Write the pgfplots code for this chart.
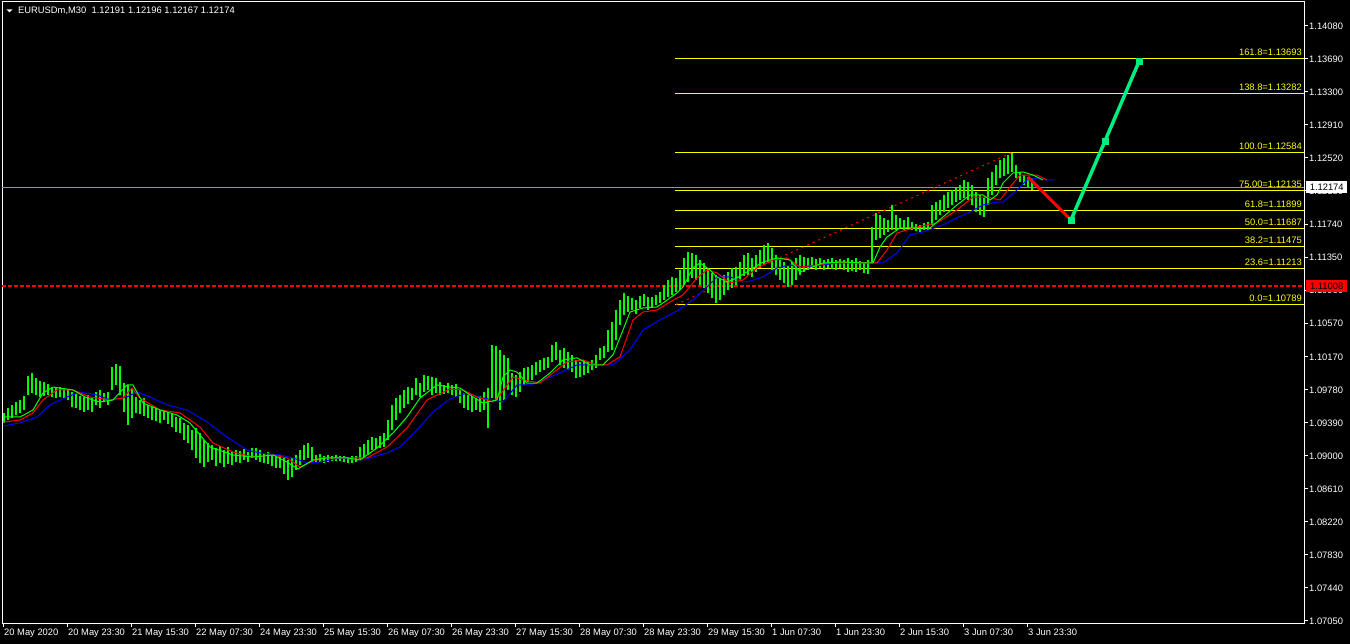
\documentclass[border=0pt]{standalone}
\usepackage{pgfplots}
\usepackage{pgfplotstable}
\pgfplotsset{compat=1.18}
\usepackage{fontspec}
\newfontfamily\mtfont{Liberation Sans}
\definecolor{mtlime}{RGB}{0,255,0}
\definecolor{mtred}{RGB}{255,0,0}
\definecolor{mtblue}{RGB}{0,0,255}
\definecolor{mtyellow}{RGB}{255,255,0}
\definecolor{mtspring}{RGB}{0,238,128}
\definecolor{mtgrey}{RGB}{140,150,160}
\newcommand\mtsize{\mtfont\fontsize{9.4}{10}\selectfont}

\pgfplotstableread{
x lo hi
4 1.09389 1.09508
8 1.09424 1.09566
12 1.09448 1.09602
16 1.09484 1.09637
20 1.09508 1.09661
24 1.09543 1.09708
28 1.09720 1.09944
32 1.09744 1.09980
36 1.09720 1.09920
40 1.09696 1.09885
44 1.09708 1.09873
48 1.09720 1.09850
52 1.09696 1.09814
56 1.09684 1.09802
60 1.09696 1.09814
64 1.09684 1.09802
68 1.09661 1.09791
72 1.09578 1.09755
76 1.09566 1.09732
80 1.09543 1.09708
84 1.09519 1.09696
88 1.09543 1.09720
92 1.09519 1.09684
96 1.09602 1.09755
100 1.09566 1.09779
104 1.09637 1.09744
108 1.09602 1.09755
112 1.09779 1.10051
116 1.09838 1.10087
120 1.09720 1.10063
124 1.09519 1.09861
128 1.09365 1.09838
132 1.09448 1.09802
136 1.09508 1.09696
140 1.09496 1.09661
144 1.09472 1.09684
148 1.09448 1.09602
152 1.09424 1.09578
156 1.09412 1.09566
160 1.09389 1.09543
164 1.09424 1.09543
168 1.09377 1.09519
172 1.09341 1.09508
176 1.09282 1.09460
180 1.09271 1.09448
184 1.09188 1.09389
188 1.09153 1.09365
192 1.09070 1.09306
196 1.08976 1.09330
200 1.08917 1.09271
204 1.08869 1.09188
208 1.08928 1.09153
212 1.08952 1.09129
216 1.08881 1.09093
220 1.08917 1.09117
224 1.08869 1.09070
228 1.08905 1.09105
232 1.08893 1.09046
236 1.08928 1.09070
240 1.08917 1.09058
244 1.08952 1.09082
248 1.08928 1.09046
252 1.08976 1.09093
256 1.08952 1.09093
260 1.08928 1.09070
264 1.08917 1.09035
268 1.08905 1.09046
272 1.08881 1.09011
276 1.08857 1.08999
280 1.08857 1.09011
284 1.08787 1.08976
288 1.08716 1.08952
292 1.08751 1.08976
296 1.08834 1.09011
300 1.08893 1.09070
304 1.08952 1.09129
308 1.08976 1.09153
312 1.08928 1.09105
316 1.08917 1.09011
320 1.08928 1.09023
324 1.08917 1.08999
328 1.08928 1.09011
332 1.08940 1.08999
336 1.08940 1.09011
340 1.08940 1.08999
344 1.08928 1.08999
348 1.08917 1.08987
352 1.08917 1.08999
356 1.08928 1.08999
360 1.08952 1.09105
364 1.08987 1.09141
368 1.09011 1.09188
372 1.09070 1.09223
376 1.09082 1.09212
380 1.09093 1.09235
384 1.09105 1.09271
388 1.09188 1.09424
392 1.09306 1.09602
396 1.09424 1.09684
400 1.09508 1.09720
404 1.09566 1.09779
408 1.09614 1.09814
412 1.09661 1.09802
416 1.09720 1.09920
420 1.09696 1.09861
424 1.09755 1.09956
428 1.09779 1.09944
432 1.09720 1.09932
436 1.09744 1.09920
440 1.09720 1.09873
444 1.09732 1.09838
448 1.09744 1.09861
452 1.09720 1.09838
456 1.09696 1.09850
460 1.09625 1.09779
464 1.09566 1.09744
468 1.09543 1.09720
472 1.09519 1.09708
476 1.09543 1.09684
480 1.09519 1.09708
484 1.09543 1.09755
488 1.09330 1.09802
492 1.09684 1.10311
496 1.09661 1.10299
500 1.09543 1.10252
504 1.09661 1.10193
508 1.09779 1.10158
512 1.09720 1.09980
516 1.09696 1.09956
520 1.09755 1.09991
524 1.09838 1.10039
528 1.09873 1.10051
532 1.09897 1.10075
536 1.09956 1.10110
540 1.09991 1.10134
544 1.10015 1.10158
548 1.10039 1.10170
552 1.10110 1.10311
556 1.10134 1.10346
560 1.10075 1.10252
564 1.10039 1.10276
568 1.10015 1.10228
572 1.09991 1.10193
576 1.09920 1.10134
580 1.09932 1.10110
584 1.09956 1.10134
588 1.09980 1.10110
592 1.10015 1.10134
596 1.10039 1.10193
600 1.10134 1.10276
604 1.10158 1.10299
608 1.10228 1.10488
612 1.10252 1.10582
616 1.10370 1.10724
620 1.10547 1.10843
624 1.10665 1.10926
628 1.10700 1.10890
632 1.10724 1.10866
636 1.10677 1.10843
640 1.10748 1.10890
644 1.10772 1.10914
648 1.10724 1.10878
652 1.10760 1.10878
656 1.10784 1.10902
660 1.10807 1.10937
664 1.10843 1.11020
668 1.10878 1.11079
672 1.10902 1.11114
676 1.10937 1.11102
680 1.10961 1.11197
684 1.11020 1.11339
688 1.11055 1.11409
692 1.11102 1.11398
696 1.11079 1.11374
700 1.11020 1.11315
704 1.10985 1.11280
708 1.10926 1.11221
712 1.10866 1.11162
716 1.10807 1.11138
720 1.10843 1.11102
724 1.10902 1.11138
728 1.10961 1.11173
732 1.10985 1.11221
736 1.11020 1.11232
740 1.11079 1.11291
744 1.11126 1.11374
748 1.11138 1.11398
752 1.11114 1.11339
756 1.11173 1.11374
760 1.11221 1.11433
764 1.11256 1.11492
768 1.11291 1.11516
772 1.11197 1.11457
776 1.11138 1.11374
780 1.11079 1.11315
784 1.11044 1.11291
788 1.10996 1.11256
792 1.11020 1.11291
796 1.11079 1.11339
800 1.11138 1.11374
804 1.11173 1.11350
808 1.11197 1.11339
812 1.11221 1.11350
816 1.11197 1.11327
820 1.11221 1.11339
824 1.11197 1.11315
828 1.11221 1.11327
832 1.11209 1.11339
836 1.11197 1.11315
840 1.11221 1.11327
844 1.11197 1.11315
848 1.11173 1.11339
852 1.11185 1.11315
856 1.11173 1.11339
860 1.11197 1.11303
864 1.11162 1.11291
868 1.11150 1.11315
872 1.11280 1.11705
876 1.11551 1.11871
880 1.11575 1.11847
884 1.11611 1.11812
888 1.11646 1.11788
892 1.11670 1.11965
896 1.11670 1.11847
900 1.11694 1.11812
904 1.11670 1.11788
908 1.11694 1.11823
912 1.11670 1.11764
916 1.11658 1.11741
920 1.11646 1.11729
924 1.11670 1.11753
928 1.11670 1.11764
932 1.11729 1.11965
936 1.11788 1.12000
940 1.11847 1.12024
944 1.11882 1.12083
948 1.11929 1.12118
952 1.11965 1.12142
956 1.12000 1.12165
960 1.12024 1.12201
964 1.12047 1.12260
968 1.12024 1.12236
972 1.11965 1.12201
976 1.11882 1.12118
980 1.11847 1.12083
984 1.11823 1.12047
988 1.11965 1.12284
992 1.12083 1.12355
996 1.12201 1.12438
1000 1.12284 1.12497
1004 1.12307 1.12521
1008 1.12331 1.12556
1012 1.12355 1.12580
1016 1.12284 1.12438
1020 1.12236 1.12355
1024 1.12201 1.12319
1028 1.12165 1.12296
1032 1.12142 1.12284
}\bars

\pgfplotstableread{
x y
3 1.09460
20 1.09460
33 1.09543
43 1.09744
53 1.09814
73 1.09779
87 1.09684
100 1.09637
113 1.09661
127 1.09838
133 1.09838
143 1.09625
160 1.09543
177 1.09484
190 1.09389
210 1.09105
233 1.09011
253 1.08987
273 1.09011
287 1.08928
298 1.08846
313 1.08952
327 1.08976
347 1.08976
360 1.08952
377 1.09093
393 1.09271
407 1.09460
420 1.09684
437 1.09838
450 1.09814
460 1.09802
470 1.09720
483 1.09625
497 1.09661
503 1.09932
510 1.10015
517 1.09991
527 1.09861
537 1.09861
550 1.09980
563 1.10134
577 1.10158
590 1.10075
603 1.10075
613 1.10193
623 1.10488
630 1.10700
643 1.10748
657 1.10760
663 1.10807
677 1.10926
683 1.10996
693 1.11221
700 1.11280
710 1.11197
717 1.11114
727 1.11055
737 1.11102
750 1.11197
763 1.11291
777 1.11339
790 1.11315
800 1.11173
810 1.11221
823 1.11280
843 1.11291
863 1.11280
873 1.11280
880 1.11469
887 1.11587
900 1.11694
917 1.11694
930 1.11694
943 1.11823
957 1.11965
970 1.12083
983 1.12083
990 1.12024
997 1.12083
1003 1.12225
1013 1.12343
1023 1.12355
1033 1.12319
1043 1.12260
}\magreen

\pgfplotstableread{
x y
3 1.09400
20 1.09424
33 1.09508
43 1.09661
57 1.09779
73 1.09779
90 1.09696
110 1.09661
123 1.09684
132 1.09802
140 1.09684
160 1.09543
180 1.09508
200 1.09341
213 1.09153
233 1.09046
253 1.08987
273 1.09011
287 1.08976
300 1.08869
320 1.08976
347 1.08976
367 1.08976
387 1.09105
407 1.09330
427 1.09661
450 1.09791
463 1.09779
477 1.09696
493 1.09637
500 1.09720
513 1.09932
523 1.09897
540 1.09861
553 1.09980
567 1.10110
583 1.10134
597 1.10075
607 1.10075
620 1.10170
633 1.10606
643 1.10700
657 1.10724
670 1.10819
683 1.10902
697 1.11102
707 1.11197
717 1.11162
730 1.11044
743 1.11079
757 1.11221
773 1.11315
787 1.11339
800 1.11232
817 1.11256
837 1.11291
863 1.11280
877 1.11280
887 1.11433
897 1.11634
917 1.11705
937 1.11753
957 1.11906
973 1.12059
987 1.12059
1000 1.12024
1010 1.12177
1020 1.12319
1037 1.12319
1047 1.12260
}\mared

\pgfplotstableread{
x y
3 1.09353
20 1.09389
37 1.09460
50 1.09602
67 1.09696
80 1.09755
97 1.09720
110 1.09661
127 1.09696
137 1.09755
150 1.09696
167 1.09602
187 1.09543
207 1.09401
227 1.09223
247 1.09070
260 1.09035
280 1.09011
293 1.08976
307 1.08917
320 1.08928
340 1.08976
363 1.08952
387 1.09035
400 1.09105
417 1.09306
433 1.09519
450 1.09673
467 1.09744
483 1.09684
503 1.09637
517 1.09838
530 1.09838
543 1.09897
560 1.09980
577 1.10075
590 1.10075
613 1.10075
630 1.10252
643 1.10488
660 1.10606
677 1.10713
693 1.10843
707 1.10996
717 1.11114
730 1.11114
747 1.11055
763 1.11114
777 1.11221
790 1.11256
803 1.11232
823 1.11256
837 1.11280
857 1.11280
883 1.11280
897 1.11398
910 1.11611
923 1.11646
943 1.11729
957 1.11812
970 1.11882
983 1.11965
997 1.12000
1003 1.12000
1017 1.12142
1027 1.12260
1037 1.12284
1047 1.12260
1055 1.12260
}\mablue

\begin{document}
\begin{tikzpicture}
\fill[black] (0,0) rectangle (1350bp,644bp);
\begin{axis}[
  scale only axis, width=1302bp, height=621bp,
  at={(2bp,21bp)}, anchor=south west,
  xmin=2, xmax=1304, ymin=1.07026, ymax=1.14363,
  axis line style={white, line width=1bp},
  tick style={white, line width=1bp},
  major tick length=4bp, tick align=outside,
  xtick pos=bottom, ytick pos=right,
  xticklabel pos=lower, yticklabel pos=right,
  xtick={3,67,131,195,259,323,387,451,515,579,643,707,771,835,899,963,1027},
  xticklabels={20 May 2020,20 May 23:30,21 May 15:30,22 May 07:30,24 May 23:30,25 May 15:30,26 May 07:30,26 May 23:30,27 May 15:30,28 May 07:30,28 May 23:30,29 May 15:30,1 Jun 07:30,1 Jun 23:30,2 Jun 15:30,3 Jun 07:30,3 Jun 23:30},
  ytick={1.07050,1.07440,1.07830,1.08220,1.08610,1.09000,1.09390,1.09780,1.10170,1.10570,1.10960,1.11350,1.11740,1.12130,1.12520,1.12910,1.13300,1.13690,1.14080},
  yticklabels={1.07050,1.07440,1.07830,1.08220,1.08610,1.09000,1.09390,1.09780,1.10170,1.10570,1.10960,1.11350,1.11740,1.12130,1.12520,1.12910,1.13300,1.13690,1.14080},
  xticklabel style={anchor=north west, inner sep=0pt, xshift=1bp, yshift=-2bp, text=white, font=\mtsize},
  yticklabel style={anchor=west, inner sep=0pt, xshift=1bp, text=white, font=\mtsize},
  every axis plot/.append style={mark=none},
]
% Fibonacci levels
\addplot[mtyellow, line width=1bp] coordinates {(675,1.13693) (1304,1.13693)};
\addplot[mtyellow, line width=1bp] coordinates {(675,1.13282) (1304,1.13282)};
\addplot[mtyellow, line width=1bp] coordinates {(675,1.12584) (1304,1.12584)};
\addplot[mtyellow, line width=1bp] coordinates {(675,1.12135) (1304,1.12135)};
\addplot[mtyellow, line width=1bp] coordinates {(675,1.11899) (1304,1.11899)};
\addplot[mtyellow, line width=1bp] coordinates {(675,1.11687) (1304,1.11687)};
\addplot[mtyellow, line width=1bp] coordinates {(675,1.11475) (1304,1.11475)};
\addplot[mtyellow, line width=1bp] coordinates {(675,1.11213) (1304,1.11213)};
\addplot[mtyellow, line width=1bp] coordinates {(675,1.10789) (1304,1.10789)};
% current price and red level
\addplot[mtgrey, line width=1bp] coordinates {(2,1.12174) (1304,1.12174)};
\addplot[mtred, line width=1.2bp, dash pattern=on 4bp off 2bp] coordinates {(2,1.11008) (1304,1.11008)};
\addplot[mtred, line width=1bp, dash pattern=on 2bp off 4bp] coordinates {(676,1.10789) (1012,1.12584)};
% bars
\addplot[draw=none, forget plot,
  error bars/.cd, y dir=plus, y explicit, error mark=none,
  error bar style={draw=mtlime, line width=1.5bp}]
  table[x=x, y=lo, y error plus expr=\thisrow{hi}-\thisrow{lo}] {\bars};
% moving averages
\addplot[mtblue, line width=1bp] table[x=x,y=y] {\mablue};
\addplot[mtred, line width=1bp] table[x=x,y=y] {\mared};
\addplot[mtlime, line width=1bp] table[x=x,y=y] {\magreen};
% projection
\addplot[mtred, line width=3bp] coordinates {(1028,1.12296) (1071,1.11788)};
\addplot[mtspring, line width=3.5bp, mark=square*, mark size=3bp, mark options={fill=mtspring, draw=mtspring, line width=0.5bp}]
  coordinates {(1071,1.11788) (1105,1.12721) (1139,1.13660)};
% labels of levels
\node[anchor=south east, inner sep=0pt, yshift=2.5bp, text=mtyellow, font=\mtsize] at (axis cs:1302,1.13693) {161.8=1.13693};
\node[anchor=south east, inner sep=0pt, yshift=2.5bp, text=mtyellow, font=\mtsize] at (axis cs:1302,1.13282) {138.8=1.13282};
\node[anchor=south east, inner sep=0pt, yshift=2.5bp, text=mtyellow, font=\mtsize] at (axis cs:1302,1.12584) {100.0=1.12584};
\node[anchor=south east, inner sep=0pt, yshift=2.5bp, text=mtyellow, font=\mtsize] at (axis cs:1302,1.12135) {75.00=1.12135};
\node[anchor=south east, inner sep=0pt, yshift=2.5bp, text=mtyellow, font=\mtsize] at (axis cs:1302,1.11899) {61.8=1.11899};
\node[anchor=south east, inner sep=0pt, yshift=2.5bp, text=mtyellow, font=\mtsize] at (axis cs:1302,1.11687) {50.0=1.11687};
\node[anchor=south east, inner sep=0pt, yshift=2.5bp, text=mtyellow, font=\mtsize] at (axis cs:1302,1.11475) {38.2=1.11475};
\node[anchor=south east, inner sep=0pt, yshift=2.5bp, text=mtyellow, font=\mtsize] at (axis cs:1302,1.11213) {23.6=1.11213};
\node[anchor=south east, inner sep=0pt, yshift=2.5bp, text=mtyellow, font=\mtsize] at (axis cs:1302,1.10789) {0.0=1.10789};
\coordinate (cp) at (axis cs:1304,1.12174);
\coordinate (rp) at (axis cs:1304,1.11008);
\end{axis}
\node[anchor=west, fill=white, text=black, font=\mtsize, inner sep=0pt, minimum width=41bp, minimum height=12bp] at ([xshift=2bp]cp) {1.12174};
\node[anchor=west, fill=mtred, text=black, font=\mtsize, inner sep=0pt, minimum width=41bp, minimum height=12bp] at ([xshift=2bp]rp) {1.11008};
% title
\fill[white] (6.5bp,634.7bp) -- (12.5bp,634.7bp) -- (9.5bp,631.5bp) -- cycle;
\node[anchor=base west, inner sep=0pt, text=white, font=\mtsize] at (18bp,630.5bp) {EURUSDm,M30\ \ 1.12191 1.12196 1.12167 1.12174};
\pgfresetboundingbox
\useasboundingbox (0,0) rectangle (1350bp,644bp);
\end{tikzpicture}
\end{document}
